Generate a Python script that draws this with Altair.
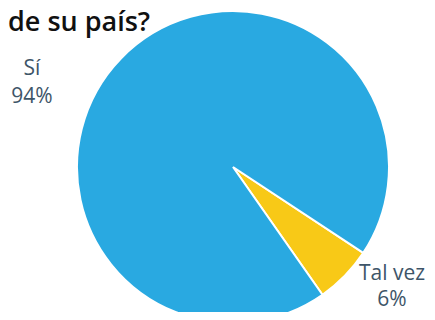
import math
import altair as alt
import pandas as pd

categories = ["Tal vez", "Sí"]
values = [6, 94]
pct_labels = ["6%", "94%"]
colors = ["#F8C917", "#29A9E1"]
title_text = "de su país?"

df = pd.DataFrame({"cat": categories, "value": values, "pct": pct_labels, "order": [0, 1]})

start = math.radians(123.4)
FONT = "Open Sans"
TXT = "#3E5568"

base = alt.Chart(df)

pie = base.mark_arc(outerRadius=156, stroke="white", strokeWidth=2).encode(
    theta=alt.Theta("value:Q", stack=True, scale=alt.Scale(range=[start, start + 2 * math.pi])),
    order=alt.Order("order:Q"),
    color=alt.Color("cat:N", scale=alt.Scale(domain=categories, range=colors), legend=None),
    x=alt.value(225),
    y=alt.value(159),
)

def label(cat, x, y1, y2):
    t = base.transform_filter(alt.datum.cat == cat)
    a = t.mark_text(font=FONT, fontSize=21, color=TXT, align="center", baseline="alphabetic").encode(
        text="cat:N", x=alt.value(x), y=alt.value(y1))
    b = t.mark_text(font=FONT, fontSize=21, color=TXT, align="center", baseline="alphabetic").encode(
        text="pct:N", x=alt.value(x), y=alt.value(y2))
    return a + b

title = alt.Chart(pd.DataFrame({"t": [title_text]})).mark_text(
    font=FONT, fontSize=27, fontWeight=600, color="#111111", align="left", baseline="alphabetic"
).encode(text="t:N", x=alt.value(0), y=alt.value(23))

chart = alt.layer(pie, label("Sí", 24, 67, 95), label("Tal vez", 384, 272, 298), title).properties(
    width=419, height=304, padding=0,
    autosize=alt.AutoSizeParams(type="none"),
).configure_view(stroke=None)

chart.save("out.html", embed_options={"renderer": "svg", "actions": False})
